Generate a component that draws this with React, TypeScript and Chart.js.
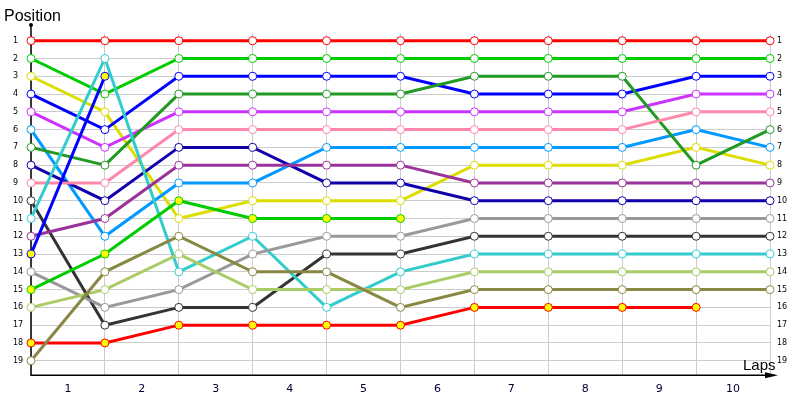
import React, { useEffect, useRef } from 'react';
import { Chart, registerables } from 'chart.js';

Chart.register(...registerables);

// laps 0..10, one position per lap
const lapLabels = ['1', '2', '3', '4', '5', '6', '7', '8', '9', '10'];
const positionTicks = [1, 2, 3, 4, 5, 6, 7, 8, 9, 10, 11, 12, 13, 14, 15, 16, 17, 18, 19];

const leaderRed = [1, 1, 1, 1, 1, 1, 1, 1, 1, 1, 1];
const brightGreen = [2, 4, 2, 2, 2, 2, 2, 2, 2, 2, 2];
const yellow = [3, 5, 11, 10, 10, 10, 8, 8, 8, 7, 8];
const blue = [4, 6, 3, 3, 3, 3, 4, 4, 4, 3, 3];
const magenta = [5, 7, 5, 5, 5, 5, 5, 5, 5, 4, 4];
const skyBlue = [6, 12, 9, 9, 7, 7, 7, 7, 7, 6, 7];
const darkGreen = [7, 8, 4, 4, 4, 4, 3, 3, 3, 8, 6];
const navy = [8, 10, 7, 7, 9, 9, 10, 10, 10, 10, 10];
const pink = [9, 9, 6, 6, 6, 6, 6, 6, 6, 5, 5];
const charcoal = [10, 17, 16, 16, 13, 13, 12, 12, 12, 12, 12];
const turquoise = [11, 2, 14, 12, 16, 14, 13, 13, 13, 13, 13];
const purple = [12, 11, 8, 8, 8, 8, 9, 9, 9, 9, 9];
const lappedBlue = [13, 3];
const grey = [14, 16, 15, 13, 12, 12, 11, 11, 11, 11, 11];
const lappedGreen = [15, 13, 10, 11, 11, 11];
const lime = [16, 15, 13, 15, 15, 15, 14, 14, 14, 14, 14];
const lappedRed = [18, 18, 17, 17, 17, 17, 16, 16, 16, 16];
const olive = [19, 14, 12, 14, 14, 16, 15, 15, 15, 15, 15];

const series: { values: number[]; color: string; lapped?: boolean }[] = [
    { values: olive, color: '#888844' },
    { values: lappedRed, color: '#ff0000', lapped: true },
    { values: lime, color: '#aacc66' },
    { values: lappedGreen, color: '#00cc00', lapped: true },
    { values: grey, color: '#999999' },
    { values: lappedBlue, color: '#0000ff', lapped: true },
    { values: purple, color: '#993399' },
    { values: turquoise, color: '#33cccc' },
    { values: charcoal, color: '#333333' },
    { values: pink, color: '#ff88aa' },
    { values: navy, color: '#1100aa' },
    { values: darkGreen, color: '#229922' },
    { values: skyBlue, color: '#0099ff' },
    { values: magenta, color: '#cc33ff' },
    { values: blue, color: '#0000ff' },
    { values: yellow, color: '#dddd00' },
    { values: brightGreen, color: '#00cc00' },
    { values: leaderRed, color: '#ff0000' },
];

const axesPlugin = {
    id: 'raceAxes',
    beforeDatasetsDraw(chart: any) {
        const { ctx, chartArea } = chart;
        const { left, right, bottom } = chartArea;
        ctx.save();
        ctx.strokeStyle = '#000';
        ctx.fillStyle = '#000';
        ctx.lineWidth = 1.5;
        ctx.beginPath();
        ctx.moveTo(left, 25);
        ctx.lineTo(left, bottom);
        ctx.lineTo(right + 2, bottom);
        ctx.stroke();
        // arrow head on the laps axis
        ctx.beginPath();
        ctx.moveTo(right - 5, bottom - 3);
        ctx.lineTo(right + 8, bottom);
        ctx.lineTo(right - 5, bottom + 3);
        ctx.closePath();
        ctx.fill();
        // small dot on top of position axis
        ctx.beginPath();
        ctx.arc(left, 25, 2, 0, Math.PI * 2);
        ctx.fill();
        ctx.restore();
    },
    afterDraw(chart: any) {
        const { ctx } = chart;
        ctx.save();
        ctx.fillStyle = '#000';
        ctx.textBaseline = 'alphabetic';
        ctx.font = '16px "Liberation Sans"';
        ctx.fillText('Position', 4, 21);
        ctx.font = '15px "Liberation Sans"';
        ctx.fillText('Laps', 743, 370);
        ctx.restore();
    },
};

const PositionChart: React.FC = () => {
    const canvasRef = useRef<HTMLCanvasElement | null>(null);

    useEffect(() => {
        if (!canvasRef.current) return;

        const datasets = series.map(s => ({
            data: s.values.map((pos, lap) => ({ x: lap, y: pos })),
            borderColor: s.color,
            borderWidth: 3,
            pointRadius: 4,
            pointBorderWidth: 1,
            pointBorderColor: s.color,
            pointBackgroundColor: s.lapped ? '#ffff00' : '#ffffff',
            tension: 0,
            clip: false as const,
        }));

        const chart = new Chart(canvasRef.current, {
            type: 'line',
            data: { datasets },
            options: {
                responsive: true,
                maintainAspectRatio: false,
                animation: false,
                layout: { padding: { left: 13, top: 33.6, right: 0, bottom: 0 } },
                plugins: {
                    legend: { display: false },
                    tooltip: { enabled: false },
                },
                scales: {
                    x: {
                        type: 'linear',
                        min: 0,
                        max: 10,
                        afterBuildTicks: (scale: any) => {
                            scale.ticks = lapLabels.map((_, i) => ({ value: i })).concat([{ value: 10 }]);
                        },
                        afterFit: (scale: any) => { scale.height = 0; },
                        ticks: { display: false },
                        grid: { color: '#cccccc', drawTicks: false },
                        border: { display: false },
                    },
                    xl: {
                        type: 'linear',
                        position: 'bottom',
                        min: 0,
                        max: 10,
                        afterBuildTicks: (scale: any) => {
                            scale.ticks = lapLabels.map((_, i) => ({ value: i + 0.5 }));
                        },
                        afterFit: (scale: any) => { scale.height = 24.7; },
                        ticks: {
                            autoSkip: false,
                            maxRotation: 0,
                            padding: 7,
                            color: '#000033',
                            font: { family: 'DejaVu Sans', size: 11 },
                            callback: (v: any) => lapLabels[Math.floor(Number(v))],
                        },
                        grid: { display: false, drawTicks: false },
                        border: { display: false },
                    },
                    y: {
                        type: 'linear',
                        position: 'left',
                        reverse: true,
                        min: 0.6,
                        max: 19.82,
                        afterBuildTicks: (scale: any) => {
                            scale.ticks = positionTicks.map(v => ({ value: v }));
                        },
                        afterFit: (scale: any) => { scale.width = 18; },
                        ticks: {
                            crossAlign: 'far',
                            padding: 0,
                            color: '#000',
                            font: { family: 'DejaVu Sans', size: 8 },
                        },
                        grid: { color: '#cccccc', drawTicks: false },
                        border: { display: false },
                    },
                    y2: {
                        type: 'linear',
                        position: 'right',
                        reverse: true,
                        min: 0.6,
                        max: 19.82,
                        afterBuildTicks: (scale: any) => {
                            scale.ticks = positionTicks.map(v => ({ value: v }));
                        },
                        afterFit: (scale: any) => { scale.width = 30; },
                        ticks: {
                            crossAlign: 'near',
                            padding: 7,
                            color: '#000',
                            font: { family: 'DejaVu Sans', size: 8 },
                        },
                        grid: { display: false, drawTicks: false },
                        border: { display: false },
                    },
                },
            },
            plugins: [axesPlugin],
        });

        return () => {
            chart.destroy();
        };
    }, []);

    return (
        <div style={{ position: 'absolute', left: 0, top: 0, width: 800, height: 400 }}>
            <canvas ref={canvasRef} />
        </div>
    );
};

export default function App() {
    return <PositionChart />;
}
